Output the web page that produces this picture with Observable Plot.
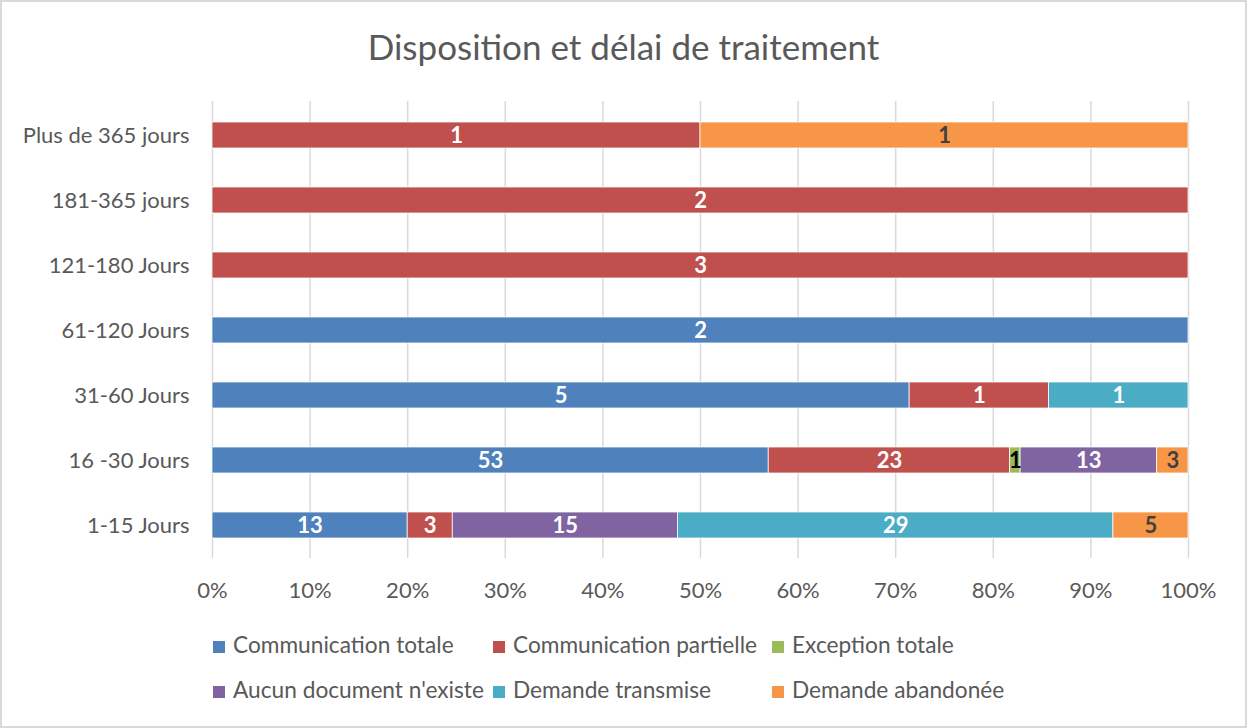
<!DOCTYPE html>
<html>
<head>
<meta charset="utf-8">
<script src="https://cdn.jsdelivr.net/npm/d3@7"></script>
<script src="https://cdn.jsdelivr.net/npm/@observablehq/plot@0.6"></script>
<style>
  html, body { margin: 0; padding: 0; background: #fff; }
  #chart { position: relative; width: 1247px; height: 728px; box-sizing: border-box; border: 2px solid #d9d9d9; overflow: hidden; font-family: Lato, "Open Sans", sans-serif; }
  #chart svg { position: absolute; left: -2px; top: -2px; max-width: none !important; width: 1247px; height: 728px; }
  #title { position: absolute; left: -2px; width: 1247px; top: 23px; text-align: center; font-size: 35px; line-height: 42px; color: #595959; }
  .leg { position: absolute; font-size: 22.7px; color: #595959; white-space: nowrap; line-height: 24px; }
  .leg i { display: inline-block; width: 12px; height: 12px; margin-right: 8px; vertical-align: 0px; }
</style>
</head>
<body>
<div id="chart"><div id="title">Disposition et délai de traitement</div></div>
<script>
const categories = ["Plus de 365 jours", "181-365 jours", "121-180 Jours", "61-120 Jours", "31-60 Jours", "16 -30 Jours", "1-15 Jours"];
const seriesNames = ["Communication totale", "Communication partielle", "Exception totale", "Aucun document n'existe", "Demande transmise", "Demande abandonée"];
const seriesColors = ["#4F81BD", "#C0504D", "#9BBB59", "#8064A2", "#4BACC6", "#F79646"];
const labelColors = ["#ffffff", "#ffffff", "#000000", "#ffffff", "#ffffff", "#404040"];
// values per series, in the order of categories
const communicationTotale    = [0, 0, 0, 2, 5, 53, 13];
const communicationPartielle = [1, 2, 3, 0, 1, 23, 3];
const exceptionTotale        = [0, 0, 0, 0, 0, 1, 0];
const aucunDocument          = [0, 0, 0, 0, 0, 13, 15];
const demandeTransmise       = [0, 0, 0, 0, 1, 0, 29];
const demandeAbandonee       = [1, 0, 0, 0, 0, 3, 5];
const xTicks = [0, 0.1, 0.2, 0.3, 0.4, 0.5, 0.6, 0.7, 0.8, 0.9, 1];

const seriesValues = [communicationTotale, communicationPartielle, exceptionTotale, aucunDocument, demandeTransmise, demandeAbandonee];
const rows = [];
seriesNames.forEach((s, si) => {
  categories.forEach((c, ci) => {
    const v = seriesValues[si][ci];
    if (v > 0) rows.push({category: c, series: s, value: v, si});
  });
});

const stack = {x: "value", y: "category", z: "series", offset: "normalize", order: seriesNames};
const pct = d => Math.round(d * 100) + "%";

const plot = Plot.plot({
  width: 1247,
  height: 728,
  marginLeft: 212,
  marginRight: 59,
  marginTop: 101,
  marginBottom: 170,
  style: {fontFamily: "Lato, 'Open Sans', sans-serif", fontSize: "22px", color: "#595959", background: "transparent"},
  x: {domain: [0, 1], ticks: xTicks, tickFormat: pct, label: null},
  y: {domain: categories, paddingInner: 0.6, paddingOuter: 0.3, label: null},
  color: {domain: seriesNames, range: seriesColors},
  marks: [
    Plot.gridX(xTicks, {stroke: "#d9d9d9", strokeOpacity: 1, strokeWidth: 1.5}),
    Plot.axisX({ticks: xTicks, tickSize: 0, tickPadding: 24, tickFormat: pct, fill: "#595959", fontSize: 22, label: null}),
    Plot.axisY({tickSize: 0, tickPadding: 23, fill: "#595959", fontSize: 22, label: null}),
    Plot.barX(rows, Plot.stackX({...stack, fill: "series", stroke: "#ffffff", strokeWidth: 0.75})),
    Plot.text(rows, Plot.stackX({...stack, text: "value", fill: d => labelColors[d.si], fontWeight: "bold", fontSize: 22})),
  ]
});
document.getElementById("chart").appendChild(plot);

// legend (two rows, three columns)
const legendPos = [[213, 633], [493, 633], [772, 633], [213, 678], [493, 678], [772, 678]];
seriesNames.forEach((s, i) => {
  const d = document.createElement("div");
  d.className = "leg";
  d.style.left = (legendPos[i][0] - 2) + "px";
  d.style.top = (legendPos[i][1] - 2) + "px";
  d.innerHTML = `<i style="background:${seriesColors[i]}"></i>${s}`;
  document.getElementById("chart").appendChild(d);
});
</script>
</body>
</html>
